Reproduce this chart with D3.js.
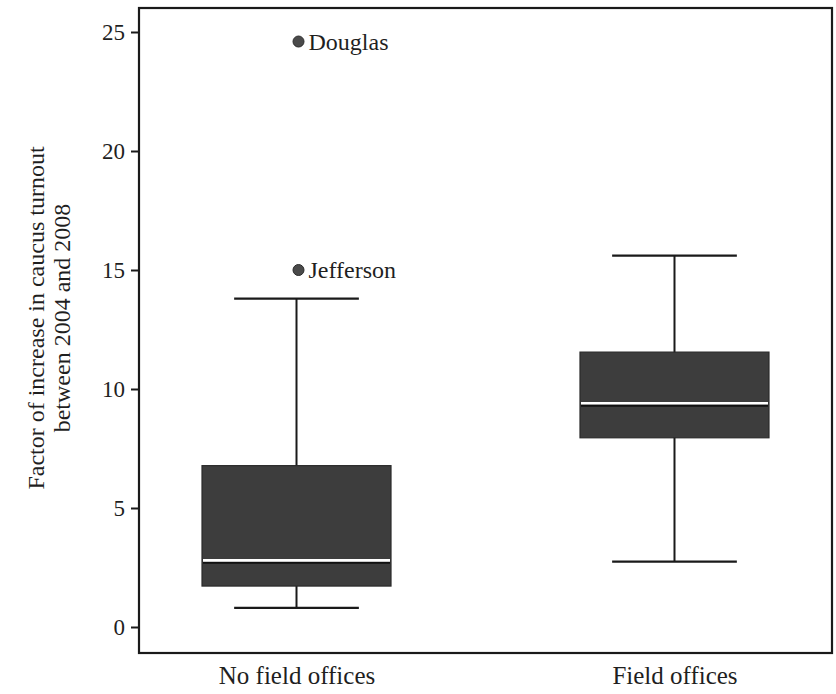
<!DOCTYPE html>
<html>
<head>
<meta charset="utf-8">
<script src="https://cdn.jsdelivr.net/npm/d3@7"></script>
<style>
  html, body { margin: 0; padding: 0; background: #fff; }
  svg { display: block; }
</style>
</head>
<body>
<svg id="chart" width="836" height="694"></svg>
<script>
// Caucus turnout growth, grouped by presence of campaign field offices
const groups = ["No field offices", "Field offices"];
const whiskerLow = [0.8, 2.75];
const q1 = [1.72, 7.95];
const median = [2.8, 9.4];
const q3 = [6.78, 11.55];
const whiskerHigh = [13.8, 15.6];

const outlierGroup = ["No field offices", "No field offices"];
const outlierValue = [24.6, 15.0];
const outlierName = ["Douglas", "Jefferson"];

const yTicks = [0, 5, 10, 15, 20, 25];
const yTitle = ["Factor of increase in caucus turnout", "between 2004 and 2008"];

const FONT = "'Liberation Serif', 'DejaVu Serif', serif";
const INK = "#1f1f1f";

const svg = d3.select("#chart");
const plot = { left: 139, right: 832, top: 8, bottom: 653 };

const x = d3.scalePoint()
  .domain(groups)
  .range([plot.left, plot.right])
  .padding(0.4167);

const y = d3.scaleLinear()
  .domain([0, 25])
  .range([627, 32]);

const boxW = x.step() * 0.5;
const capW = x.step() * 0.33;

const rows = groups.map((g, i) => ({
  g, lo: whiskerLow[i], q1: q1[i], med: median[i], q3: q3[i], hi: whiskerHigh[i]
}));

// frame
svg.append("rect")
  .attr("x", plot.left).attr("y", plot.top)
  .attr("width", plot.right - plot.left)
  .attr("height", plot.bottom - plot.top)
  .attr("fill", "none")
  .attr("stroke", "#1a1a1a")
  .attr("stroke-width", 2.2);

// y axis ticks and labels
const yAxis = d3.axisLeft(y).tickValues(yTicks).tickSize(8).tickPadding(6).tickFormat(d3.format("d"));
const ya = svg.append("g").attr("transform", `translate(${plot.left},0)`).call(yAxis);
ya.select(".domain").remove();
ya.selectAll(".tick line").attr("stroke", "#1a1a1a").attr("stroke-width", 2);
ya.selectAll(".tick text")
  .style("font-family", FONT)
  .style("font-size", "23px")
  .style("fill", INK);

// x axis category labels
const xa = svg.append("g").attr("transform", `translate(0,${plot.bottom})`)
  .call(d3.axisBottom(x).tickSize(0).tickPadding(13));
xa.select(".domain").remove();
xa.selectAll(".tick text")
  .style("font-family", FONT)
  .style("font-size", "25px")
  .style("fill", INK);

// y axis title (two lines)
const yt = svg.append("text")
  .attr("transform", "translate(46,318) rotate(-90)")
  .attr("text-anchor", "middle")
  .style("font-family", FONT)
  .style("font-size", "24px")
  .style("fill", INK);
yt.selectAll("tspan").data(yTitle).join("tspan")
  .attr("x", 0)
  .attr("dy", (d, i) => i === 0 ? "-0.1em" : "1.1em")
  .text(d => d);

// whiskers
const bx = svg.append("g");
bx.selectAll(".stem").data(rows).join("line")
  .attr("x1", d => x(d.g)).attr("x2", d => x(d.g))
  .attr("y1", d => y(d.hi)).attr("y2", d => y(d.lo))
  .attr("stroke", "#1a1a1a").attr("stroke-width", 2);
bx.selectAll(".capHi").data(rows).join("line")
  .attr("x1", d => x(d.g) - capW / 2).attr("x2", d => x(d.g) + capW / 2)
  .attr("y1", d => y(d.hi)).attr("y2", d => y(d.hi))
  .attr("stroke", "#1a1a1a").attr("stroke-width", 2.2);
bx.selectAll(".capLo").data(rows).join("line")
  .attr("x1", d => x(d.g) - capW / 2).attr("x2", d => x(d.g) + capW / 2)
  .attr("y1", d => y(d.lo)).attr("y2", d => y(d.lo))
  .attr("stroke", "#1a1a1a").attr("stroke-width", 2.2);

// boxes
bx.selectAll(".box").data(rows).join("rect")
  .attr("x", d => x(d.g) - boxW / 2)
  .attr("width", boxW)
  .attr("y", d => y(d.q3))
  .attr("height", d => y(d.q1) - y(d.q3))
  .attr("fill", "#3d3d3d")
  .attr("stroke", "#2a2a2a")
  .attr("stroke-width", 1.2);

// medians
bx.selectAll(".medShadow").data(rows).join("line")
  .attr("x1", d => x(d.g) - boxW / 2 + 1).attr("x2", d => x(d.g) + boxW / 2 - 1)
  .attr("y1", d => y(d.med) + 2.5).attr("y2", d => y(d.med) + 2.5)
  .attr("stroke", "#111").attr("stroke-width", 2);
bx.selectAll(".med").data(rows).join("line")
  .attr("x1", d => x(d.g) - boxW / 2 + 1).attr("x2", d => x(d.g) + boxW / 2 - 1)
  .attr("y1", d => y(d.med)).attr("y2", d => y(d.med))
  .attr("stroke", "#fff").attr("stroke-width", 2.6);

// labelled outliers
const outliers = outlierValue.map((v, i) => ({ g: outlierGroup[i], v, name: outlierName[i] }));
const og = svg.append("g");
og.selectAll("circle").data(outliers).join("circle")
  .attr("cx", d => x(d.g) + 2)
  .attr("cy", d => y(d.v))
  .attr("r", 5.5)
  .attr("fill", "#4a4a4a")
  .attr("stroke", "#2a2a2a")
  .attr("stroke-width", 1);
og.selectAll("text").data(outliers).join("text")
  .attr("x", d => x(d.g) + 12)
  .attr("y", d => y(d.v))
  .attr("dy", "0.35em")
  .style("font-family", FONT)
  .style("font-size", "24px")
  .style("fill", INK)
  .text(d => d.name);
</script>
</body>
</html>
